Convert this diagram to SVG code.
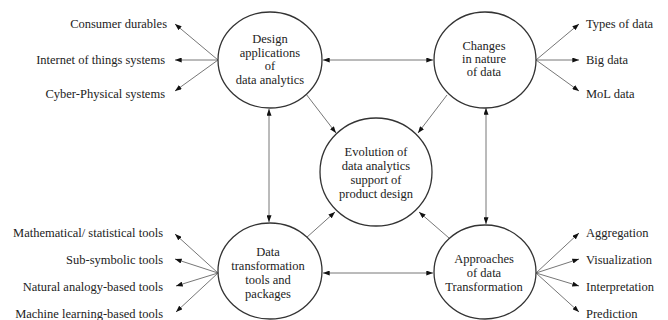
<svg xmlns="http://www.w3.org/2000/svg" width="668" height="320" viewBox="0 0 668 320">
<style>
.node{fill:#fff;stroke:#333;stroke-width:1.3}
.t{font-family:"Liberation Serif","Times New Roman",serif;font-size:12.5px;fill:#222}
.m{text-anchor:middle}
.e{text-anchor:end}
.c{stroke:#777;stroke-width:1;fill:none;marker-end:url(#ah)}
.d{stroke:#777;stroke-width:1;fill:none;marker-end:url(#ah);marker-start:url(#as)}
</style>
<defs>
<marker id="ah" viewBox="0 0 8 6" refX="8" refY="3" markerWidth="7" markerHeight="5" orient="auto" markerUnits="userSpaceOnUse"><path d="M0,0 L8,3 L0,6 z" fill="#111"/></marker>
<marker id="as" viewBox="0 0 8 6" refX="0" refY="3" markerWidth="7" markerHeight="5" orient="auto" markerUnits="userSpaceOnUse"><path d="M8,0 L0,3 L8,6 z" fill="#111"/></marker>
</defs>
<rect width="668" height="320" fill="#fff"/>
<g id="connectors">
<line class="d" x1="323" y1="60" x2="433" y2="60"/>
<line class="d" x1="269" y1="109" x2="269" y2="222"/>
<line class="d" x1="486" y1="108" x2="486" y2="224"/>
<line class="d" x1="323" y1="273" x2="433" y2="273"/>
<line class="c" x1="306" y1="94" x2="336" y2="133"/>
<line class="c" x1="447" y1="95" x2="418" y2="133"/>
<line class="c" x1="306" y1="238" x2="335" y2="212"/>
<line class="c" x1="449" y1="238" x2="419" y2="212"/>
<line class="c" x1="218" y1="60" x2="175" y2="24"/>
<line class="c" x1="218" y1="60" x2="175" y2="60"/>
<line class="c" x1="218" y1="60" x2="175" y2="91"/>
<line class="c" x1="536" y1="60" x2="579" y2="24"/>
<line class="c" x1="536" y1="60" x2="579" y2="60"/>
<line class="c" x1="536" y1="60" x2="579" y2="91"/>
<line class="c" x1="218" y1="273" x2="175" y2="234"/>
<line class="c" x1="218" y1="273" x2="175" y2="259"/>
<line class="c" x1="218" y1="273" x2="176" y2="286"/>
<line class="c" x1="218" y1="273" x2="176" y2="312"/>
<line class="c" x1="536" y1="273" x2="579" y2="233"/>
<line class="c" x1="536" y1="273" x2="579" y2="259"/>
<line class="c" x1="536" y1="273" x2="579" y2="286"/>
<line class="c" x1="536" y1="273" x2="579" y2="312"/>
</g>
<g id="design">
<ellipse class="node" cx="270" cy="60" rx="52" ry="48"/>
<text class="t m" x="270" y="43">Design</text>
<text class="t m" x="270" y="57">applications</text>
<text class="t m" x="270" y="70">of</text>
<text class="t m" x="270" y="84">data analytics</text>
</g>
<g id="changes">
<ellipse class="node" cx="485" cy="60" rx="51" ry="48"/>
<text class="t m" x="484" y="50">Changes</text>
<text class="t m" x="484" y="63">in nature</text>
<text class="t m" x="484" y="76">of data</text>
</g>
<g id="evolution">
<ellipse class="node" cx="376" cy="172" rx="56" ry="54"/>
<text class="t m" x="376" y="156">Evolution of</text>
<text class="t m" x="376" y="170">data analytics</text>
<text class="t m" x="376" y="184">support of</text>
<text class="t m" x="376" y="198">product design</text>
</g>
<g id="tools">
<ellipse class="node" cx="270" cy="271" rx="52" ry="48"/>
<text class="t m" x="268" y="256">Data</text>
<text class="t m" x="268" y="270">transformation</text>
<text class="t m" x="268" y="284">tools and</text>
<text class="t m" x="268" y="298">packages</text>
</g>
<g id="approaches">
<ellipse class="node" cx="485" cy="272" rx="51" ry="47"/>
<text class="t m" x="484" y="263">Approaches</text>
<text class="t m" x="484" y="277">of data</text>
<text class="t m" x="484" y="291">Transformation</text>
</g>
<g id="labels">
<text class="t e" x="167" y="28">Consumer durables</text>
<text class="t e" x="165" y="64">Internet of things systems</text>
<text class="t e" x="165" y="98">Cyber-Physical systems</text>
<text class="t" x="586" y="28">Types of data</text>
<text class="t" x="586" y="64">Big data</text>
<text class="t" x="586" y="98">MoL data</text>
<text class="t e" x="163" y="237">Mathematical/ statistical tools</text>
<text class="t e" x="163" y="264">Sub-symbolic tools</text>
<text class="t e" x="163" y="291">Natural analogy-based tools</text>
<text class="t e" x="163" y="318">Machine learning-based tools</text>
<text class="t" x="586" y="237">Aggregation</text>
<text class="t" x="586" y="264">Visualization</text>
<text class="t" x="586" y="291">Interpretation</text>
<text class="t" x="586" y="318">Prediction</text>
</g>
</svg>
